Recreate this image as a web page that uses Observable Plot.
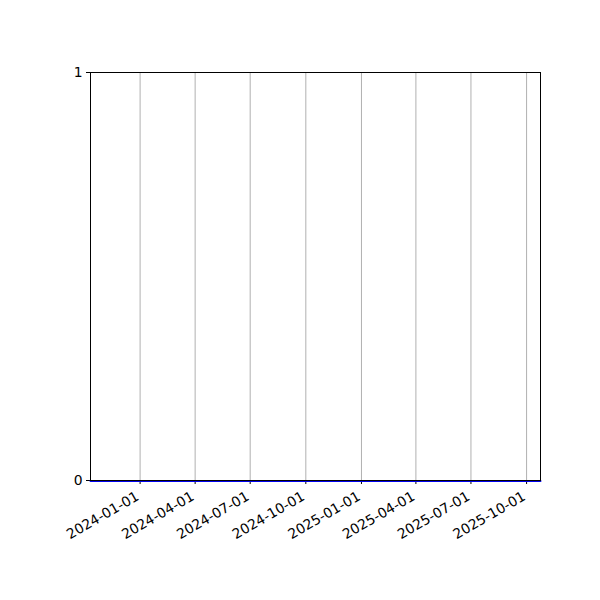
<!DOCTYPE html>
<html>
<head>
<meta charset="utf-8">
<script src="https://cdn.jsdelivr.net/npm/d3@7"></script>
<script src="https://cdn.jsdelivr.net/npm/@observablehq/plot@0.6"></script>
<style>
html, body { margin: 0; padding: 0; background: #fff; }
svg { font-family: "DejaVu Sans", sans-serif; }
</style>
</head>
<body>
<div id="chart"></div>
<script>
// Data
const lineDates = ["2023-10-11", "2025-10-24"];
const lineValues = [0, 0];
const xTickLabels = ["2024-01-01", "2024-04-01", "2024-07-01", "2024-10-01",
                     "2025-01-01", "2025-04-01", "2025-07-01", "2025-10-01"];
const yTickValues = [0, 1];

const parse = d3.utcParse("%Y-%m-%d");
const data = lineDates.map((d, i) => ({date: parse(d), value: lineValues[i]}));
const xTicks = xTickLabels.map(parse);
const fmt = d3.utcFormat("%Y-%m-%d");

const chart = Plot.plot({
  width: 600,
  height: 600,
  marginLeft: 90,
  marginRight: 60,
  marginTop: 72,
  marginBottom: 120,
  style: {fontSize: "13.9px", fontFamily: "DejaVu Sans, sans-serif", color: "black", background: "white"},
  x: {type: "utc", domain: [data[0].date, data[data.length - 1].date]},
  y: {domain: [0, 1]},
  marks: [
    Plot.gridX(xTicks, {stroke: "#b0b0b0", strokeOpacity: 1, strokeWidth: 1}),
    Plot.axisX(xTicks, {tickFormat: () => "", tickSize: 4, label: null, stroke: "black", strokeOpacity: 1}),
    Plot.text(xTicks, {x: d => d, y: () => 0, text: d => fmt(d), rotate: -30, textAnchor: "end", lineAnchor: "top", dx: -5, dy: 10, fill: "black", fontSize: 13.9}),
    Plot.axisY(yTickValues, {tickSize: 4, tickPadding: 4, label: null, tickFormat: d3.format("d"), stroke: "black", strokeOpacity: 1}),
    Plot.line(data, {x: "date", y: "value", stroke: "#0000ee", strokeWidth: 2, dy: 0.5}),
    Plot.frame({stroke: "black", strokeWidth: 1})
  ]
});
document.getElementById("chart").appendChild(chart);
</script>
</body>
</html>
